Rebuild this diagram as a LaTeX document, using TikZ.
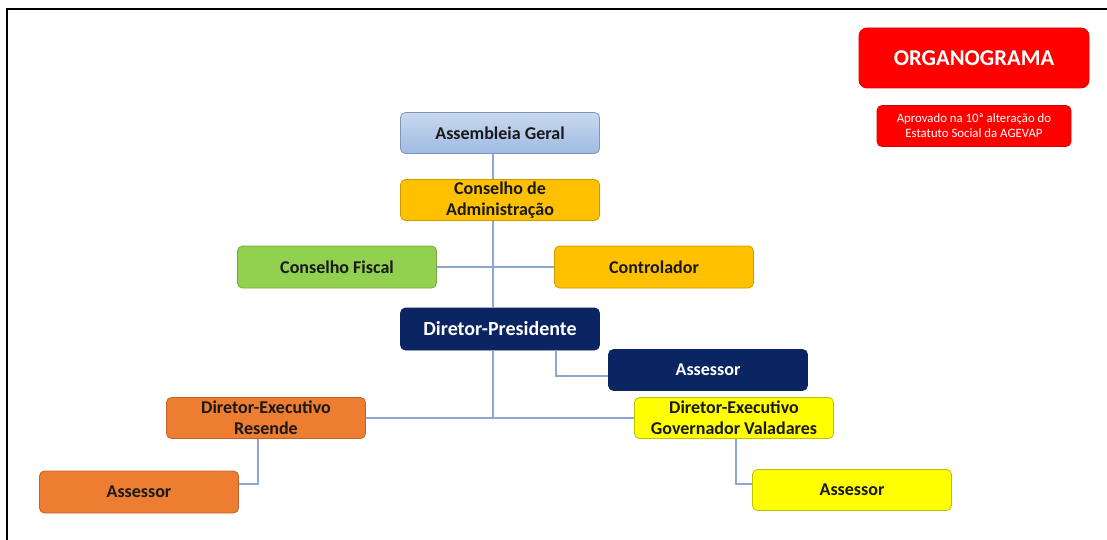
\documentclass[tikz,border=0pt]{standalone}
\usepackage{fontspec}
\setmainfont{Carlito}
\usepackage{tikz}
\usepackage{xcolor}

\begin{document}
\begin{tikzpicture}[x=0.5pt, y=-0.5pt,
    box/.style={rectangle, rounded corners=2.5pt, minimum width=99.5pt, minimum height=20.5pt,
        inner sep=1pt, align=center, line width=0.4pt, text=black!90,
        font=\bfseries\fontsize{9}{10.5}\selectfont},
    link/.style={draw=LinkBlue, line width=0.7pt}]
    \definecolor{LinkBlue}{HTML}{8EA6D4}
    \definecolor{TopBlue}{HTML}{C9D9F0}
    \definecolor{LowBlue}{HTML}{9EBAE3}
    \definecolor{Gold}{HTML}{FFC000}
    \definecolor{LeafGreen}{HTML}{92D050}
    \definecolor{Navy}{HTML}{0B2462}
    \definecolor{Orange}{HTML}{ED7D31}
    \definecolor{Lemon}{HTML}{FFFF00}
    \definecolor{Signal}{HTML}{FF0000}
    \useasboundingbox (0,0) rectangle (1107,540);
    \draw[line width=1pt] (7,540) -- (7,9.5) -- (1107,9.5);

    % title
    \node[box, fill=Signal, draw=Signal!85!black, minimum width=115pt, minimum height=30pt,
          rounded corners=4pt, text=white, font=\bfseries\fontsize{11.3}{13}\selectfont]
          (titulo) at (974,58) {ORGANOGRAMA};
    \node[box, fill=Signal, draw=Signal!85!black, minimum width=97pt, minimum height=20.5pt,
          text=white, font=\fontsize{6.4}{7.6}\selectfont]
          (aprovado) at (974,126) {Aprovado na 10ª alteração do\\Estatuto Social da AGEVAP};

    % boxes
    \node[box, top color=TopBlue, bottom color=LowBlue, draw=LowBlue!80!black] (assembleia) at (500,133) {Assembleia Geral};
    \node[box, fill=Gold, draw=Gold!80!black] (conselho) at (500,200) {Conselho de\\Administração};
    \node[box, fill=LeafGreen, draw=LeafGreen!80!black, minimum height=21pt] (fiscal) at (337,267) {Conselho Fiscal};
    \node[box, fill=Gold, draw=Gold!80!black, minimum height=21pt] (controlador) at (654,267) {Controlador};
    \node[box, fill=Navy, draw=Navy, minimum height=21pt, text=white,
          font=\bfseries\fontsize{10}{11}\selectfont] (presidente) at (500,329) {Diretor-Presidente};
    \node[box, fill=Navy, draw=Navy, text=white] (assessorP) at (708,370) {Assessor};
    \node[box, fill=Orange, draw=Orange!80!black] (resende) at (266,418) {Diretor-Executivo\\Resende};
    \node[box, fill=Orange, draw=Orange!80!black, minimum height=21pt] (assessorR) at (139,492) {Assessor};
    \node[box, fill=Lemon, draw=Lemon!75!black] (valadares) at (734,418) {Diretor-Executivo\\Governador Valadares};
    \node[box, fill=Lemon, draw=Lemon!75!black] (assessorV) at (852,490) {Assessor};

    % links
    \coordinate (tronco) at (493,418);
    \draw[link] (assembleia.south -| tronco) -- (conselho.north -| tronco);
    \draw[link] (conselho.south -| tronco) -- (presidente.north -| tronco);
    \draw[link] (presidente.south -| tronco) -- (tronco);
    \draw[link] (fiscal.east) -- (controlador.west);
    \draw[link] (resende.east) -- (valadares.west);
    \draw[link] ([xshift=28pt]presidente.south) |- ([yshift=-3pt]assessorP.west);
    \draw[link] ([xshift=-4pt]resende.south) |- ([yshift=4pt]assessorR.east);
    \draw[link] ([xshift=1pt]valadares.south) |- ([yshift=3pt]assessorV.west);
\end{tikzpicture}
\end{document}
